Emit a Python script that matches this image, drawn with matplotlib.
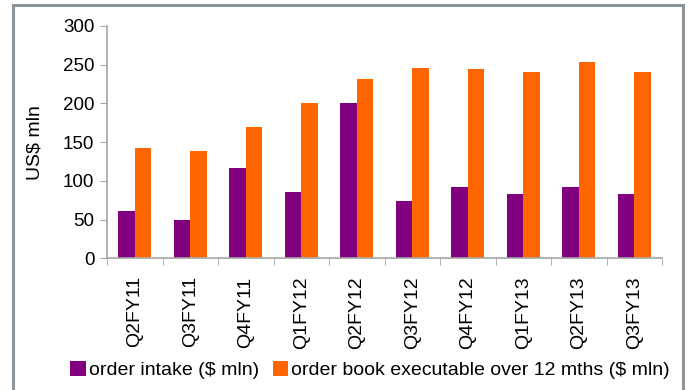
import matplotlib
matplotlib.use('Agg')
import matplotlib.pyplot as plt
import matplotlib.patches as patches
import numpy as np

# chart data
quarters = ['Q2FY11', 'Q3FY11', 'Q4FY11', 'Q1FY12', 'Q2FY12',
            'Q3FY12', 'Q4FY12', 'Q1FY13', 'Q2FY13', 'Q3FY13']
order_intake = [61, 50, 116, 86, 201, 74, 92, 83, 92, 83]
order_book = [143, 138, 169, 201, 232, 246, 244, 240, 253, 241]
series_names = ['order intake ($ mln)', 'order book executable over 12 mths ($ mln)']

plt.rcParams['font.family'] = ['Liberation Sans', 'DejaVu Sans']

purple = '#800080'
orange = '#ff6600'
axis_grey = '#a6a6a6'

fig = plt.figure(figsize=(6.88, 3.90), dpi=100)
ax = fig.add_axes([107 / 688, 131.7 / 390, 555 / 688, 232.3 / 390])

x = np.arange(len(quarters))
w = 0.3
ax.bar(x - w / 2, order_intake, w, color=purple, label=series_names[0])
ax.bar(x + w / 2, order_book, w, color=orange, label=series_names[1])

ax.set_xlim(-0.5, len(quarters) - 0.5)
ax.set_ylim(0, 300)
ax.set_yticks(range(0, 301, 50))
ax.set_ylabel('US$ mln', fontsize=14, labelpad=14)

# category labels in the middle, tick marks on the boundaries
ax.set_xticks(x)
ax.set_xticklabels(quarters, rotation=90, fontsize=14)
ax.tick_params(axis='x', which='major', length=0, pad=13)
ax.set_xticks(np.arange(-0.5, len(quarters)), minor=True)
ax.tick_params(axis='x', which='minor', length=5, color=axis_grey, direction='out')
ax.tick_params(axis='y', length=5, color=axis_grey, labelsize=13.5, pad=4)

for side in ['top', 'right']:
    ax.spines[side].set_visible(False)
for side in ['left', 'bottom']:
    ax.spines[side].set_color(axis_grey)
    ax.spines[side].set_linewidth(1.2)

fig.legend(loc='center', bbox_to_anchor=(370 / 688, 1 - 370 / 390), ncol=2,
           frameon=False, fontsize=14, handlelength=0.8, handleheight=0.8,
           handletextpad=0.15, columnspacing=0.7, borderaxespad=0)

# grey frame round the whole chart
frame = patches.Rectangle((13 / 688, -0.05), 670 / 688, 1.05 - 5 / 390,
                          transform=fig.transFigure, fill=False,
                          edgecolor='#8c9399', linewidth=2.2)
fig.patches.append(frame)

fig.savefig('out.png', dpi=100)
